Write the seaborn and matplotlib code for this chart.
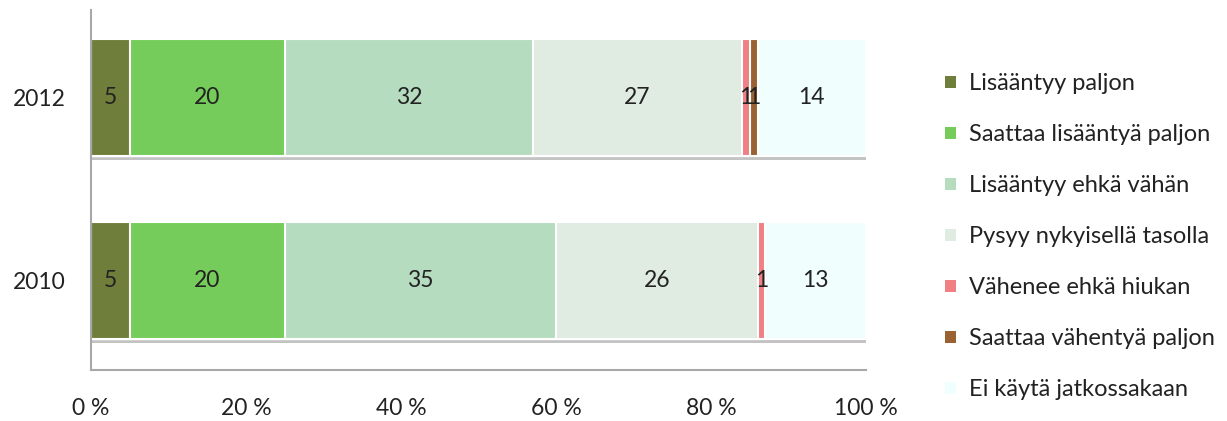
import numpy as np
import pandas as pd
import matplotlib
matplotlib.use("Agg")
import matplotlib.pyplot as plt
import matplotlib.patheffects as pe
from matplotlib.patches import Patch
import seaborn as sns

years = ["2012", "2010"]
categories = ["Lisääntyy paljon", "Saattaa lisääntyä paljon", "Lisääntyy ehkä vähän",
              "Pysyy nykyisellä tasolla", "Vähenee ehkä hiukan",
              "Saattaa vähentyä paljon", "Ei käytä jatkossakaan"]
values_2012 = [5, 20, 32, 27, 1, 1, 14]
values_2010 = [5, 20, 35, 26, 1, 0, 13]
colors = ["#6f7f3b", "#76cc5a", "#b6dcc0", "#e0ebe2", "#f08084", "#9a6232", "#f0fefe"]

sns.set_style("white")
plt.rcParams["font.family"] = ["Lato", "DejaVu Sans"]

df = pd.DataFrame([values_2012, values_2010], columns=categories)
df.insert(0, "year", years)
cum = df[categories].cumsum(axis=1)

fig = plt.figure(figsize=(12.27, 4.21), dpi=100)
ax = fig.add_axes([0.0742, 0.121, 0.6316, 0.855])

# stacked bars: draw cumulative totals from longest to shortest
for i in reversed(range(len(categories))):
    d = pd.DataFrame({"year": years, "cum": cum[categories[i]]})
    sns.barplot(data=d, x="cum", y="year", orient="h", color=colors[i],
                saturation=1, width=0.64, edgecolor="white", linewidth=1.5, ax=ax)

# soft shadow under the full-length bars
for p in ax.patches[:2]:
    p.set_path_effects([pe.SimplePatchShadow(offset=(0, -3), shadow_rgbFace="#888888", alpha=0.5),
                        pe.Normal()])

for r, y in enumerate(years):
    for i, c in enumerate(categories):
        v = df.loc[r, c]
        if v > 0:
            ax.text(cum.loc[r, c] - v / 2, r, str(v), ha="center", va="center",
                    fontsize=16.5, color="#222222")

ax.set_xlim(0, 100)
ax.set_ylim(1.49, -0.48)
ax.set_xticks(np.arange(0, 101, 20))
ax.set_xticklabels([f"{t} %" for t in range(0, 101, 20)])
ax.tick_params(axis="both", labelsize=16.5, length=0, colors="#222222")
ax.tick_params(axis="x", pad=20)
ax.tick_params(axis="y", pad=18.5)
ax.set_xlabel("")
ax.set_ylabel("")
for s in ["top", "right"]:
    ax.spines[s].set_visible(False)
for s in ["left", "bottom"]:
    ax.spines[s].set_color("#a8a8a8")
    ax.spines[s].set_linewidth(1.5)

handles = [Patch(facecolor=c, edgecolor="none") for c in colors]
fig.legend(handles, categories, loc="upper left", bbox_to_anchor=(0.753, 0.876),
           frameon=False, fontsize=17, handlelength=0.45, handleheight=0.45,
           handletextpad=0.55, labelspacing=1.27, labelcolor="#222222")

fig.savefig("out.png", dpi=100)
